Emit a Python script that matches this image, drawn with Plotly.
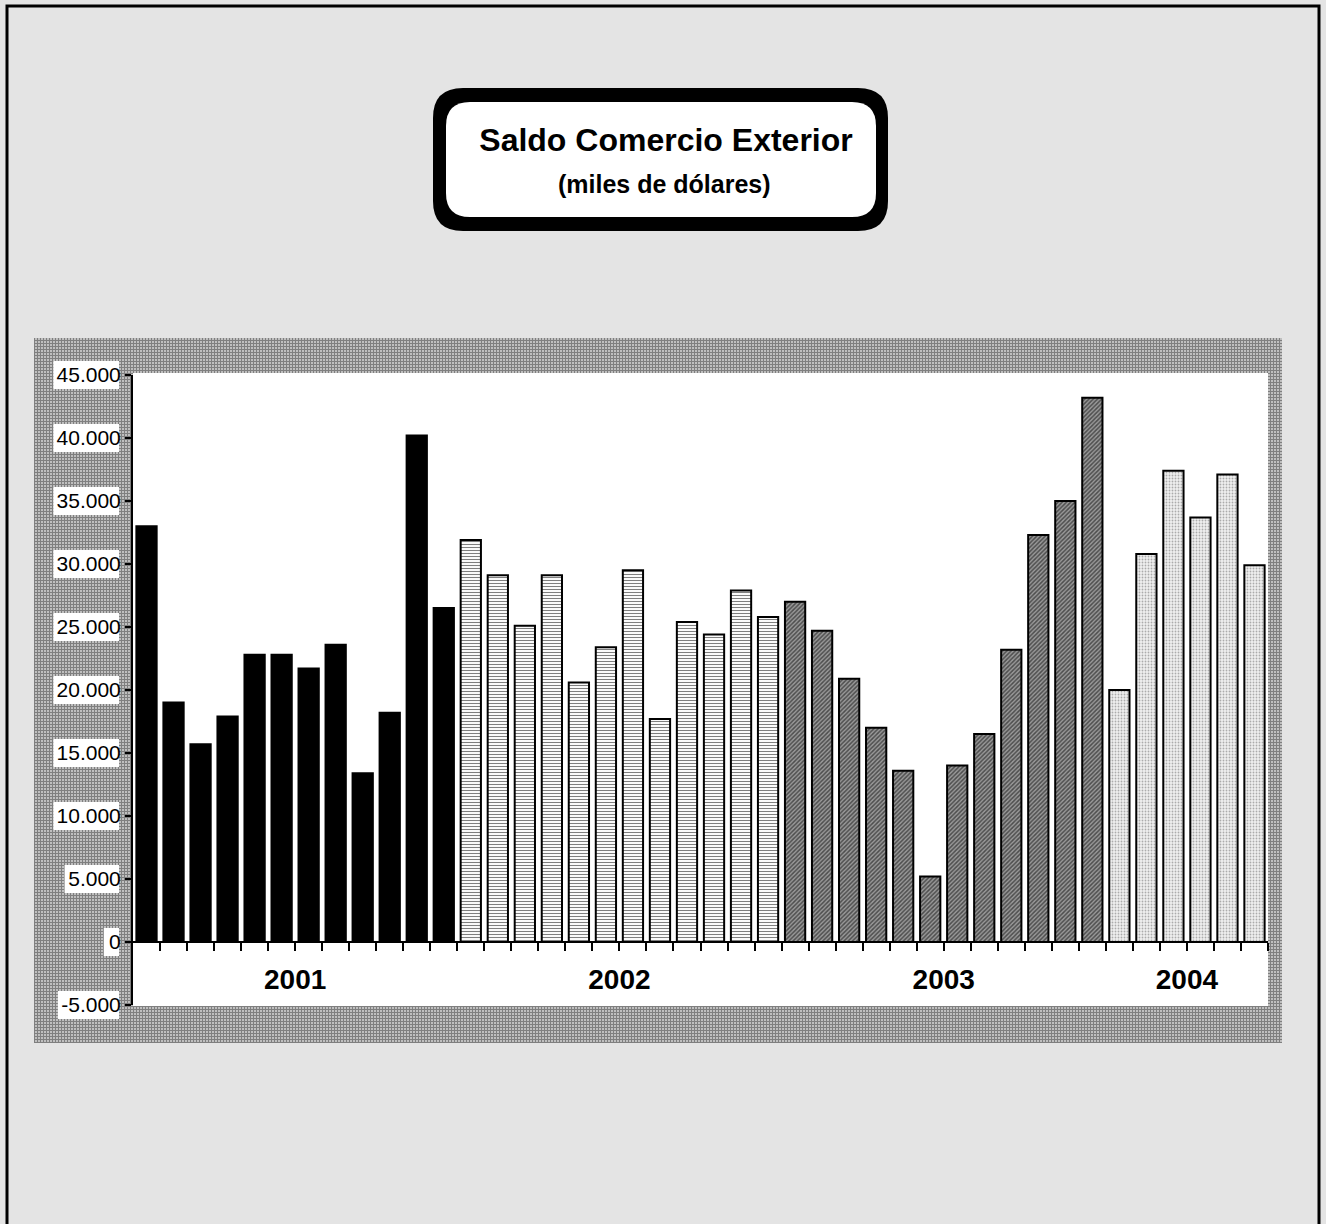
import plotly.graph_objects as go

W, H = 1326, 1224

# ---------------- data ----------------
years = ["2001", "2002", "2003", "2004"]
saldo_2001 = [33000, 19000, 15700, 17900, 22800, 22800, 21700, 23600, 13400, 18200, 40200, 26500]
saldo_2002 = [31900, 29100, 25100, 29100, 20600, 23400, 29500, 17700, 25400, 24400, 27900, 25800]
saldo_2003 = [27000, 24700, 20900, 17000, 13600, 5200, 14000, 16500, 23200, 32300, 35000, 43200]
saldo_2004 = [20000, 30800, 37400, 33700, 37100, 29900]
ytick_vals = [-5000, 0, 5000, 10000, 15000, 20000, 25000, 30000, 35000, 40000, 45000]
ytick_text = ["-5.000", "0", "5.000", "10.000", "15.000", "20.000", "25.000",
              "30.000", "35.000", "40.000", "45.000"]
title_text = "Saldo Comercio Exterior"
subtitle_text = "(miles de dólares)"

series = [saldo_2001, saldo_2002, saldo_2003, saldo_2004]

# ---------------- layout geometry (pixels) ----------------
PX_L, PX_R = 133, 1268
PX_T, PX_B = 375, 1005
Y_MIN, Y_MAX = -5000, 45000


def py(v):
    return PX_B - (v - Y_MIN) / (Y_MAX - Y_MIN) * (PX_B - PX_T)


def rrect(x0, y0, x1, y1, r):
    return (f"M{x0 + r},{y0} L{x1 - r},{y0} Q{x1},{y0} {x1},{y0 + r} "
            f"L{x1},{y1 - r} Q{x1},{y1} {x1 - r},{y1} L{x0 + r},{y1} "
            f"Q{x0},{y1} {x0},{y1 - r} L{x0},{y0 + r} Q{x0},{y0} {x0 + r},{y0} Z")


def label_width(t):
    w = 0
    for ch in t:
        w += 11.2 if ch.isdigit() else (5.6 if ch == "." else 6.7)
    return w + 4


fig = go.Figure()

# ---------------- decoration (pixel-space subplot) ----------------
HX0, HX1, HY0, HY1 = 34, 1282, 338, 1043
fig.add_trace(go.Bar(
    x=[(HX0 + HX1) / 2], y=[HY1 - HY0], base=[HY0], width=[HX1 - HX0],
    marker=dict(color="white", line=dict(width=0),
                pattern=dict(shape="+", fgcolor="black", bgcolor="white", size=3, solidity=0.8)),
    xaxis="x", yaxis="y", hoverinfo="skip", showlegend=False))

# white plot area + white boxes behind y tick labels
bx, by, bb, bw = [(PX_L + PX_R) / 2], [PX_B + 1 - (PX_T - 2)], [PX_T - 2], [PX_R - PX_L]
for v, t in zip(ytick_vals, ytick_text):
    w = label_width(t)
    bx.append(119 - w / 2)
    bw.append(w)
    bb.append(py(v) - 14)
    by.append(28)
fig.add_trace(go.Bar(
    x=bx, y=by, base=bb, width=bw,
    marker=dict(color="white", line=dict(width=0)),
    xaxis="x", yaxis="y", hoverinfo="skip", showlegend=False))

# ---------------- data bars ----------------
patterns = [
    dict(color="black", pattern=dict(shape="")),
    dict(color="white", pattern=dict(shape="-", fgcolor="black", bgcolor="white", size=3, solidity=0.36)),
    dict(color="#555555", pattern=dict(shape="/", fgcolor="black", bgcolor="#9a9a9a", size=3, solidity=0.5)),
    dict(color="#dddddd", pattern=dict(shape=".", fgcolor="#666666", bgcolor="#f0f0f0", size=3, solidity=0.3)),
]

start = 0
centers = []
for yr, vals, pat in zip(years, series, patterns):
    n = len(vals)
    xs = list(range(start, start + n))
    centers.append(start + (n - 1) / 2)
    fig.add_trace(go.Bar(
        x=xs, y=vals, name=yr,
        marker=dict(color=pat["color"], pattern=pat["pattern"],
                    line=dict(color="black", width=2)),
        xaxis="x2", yaxis="y2", showlegend=False))
    start += n
n_total = start
boundaries = [i + 0.5 for i in range(n_total)]

# ---------------- shapes: frame & title box ----------------
shapes = [
    dict(type="rect", xref="paper", yref="paper", x0=7 / W, x1=1319 / W, y0=-0.02, y1=1 - 6 / H,
         line=dict(color="black", width=3), fillcolor="rgba(0,0,0,0)", layer="above"),
    dict(type="path", xref="x", yref="y", path=rrect(433, 88, 888, 231, 30),
         fillcolor="black", line=dict(width=0), layer="above"),
    dict(type="path", xref="x", yref="y", path=rrect(446, 102, 876, 217, 24),
         fillcolor="white", line=dict(width=0), layer="above"),
]

fig.update_layout(
    width=W, height=H,
    autosize=False,
    margin=dict(l=0, r=0, t=0, b=0, pad=0, autoexpand=False),
    paper_bgcolor="#e4e4e4",
    plot_bgcolor="rgba(0,0,0,0)",
    barmode="overlay",
    bargap=0.25,
    hovermode=False,
    showlegend=False,
    shapes=shapes,
    title=dict(text=title_text, x=666 / W, xanchor="center", xref="paper",
               y=1 - 140 / H, yanchor="middle", yref="paper", automargin=False,
               font=dict(family="Arial", size=32, color="black", weight="bold")),
    annotations=[dict(text=subtitle_text, x=664, y=184, xref="x", yref="y",
                      showarrow=False, xanchor="center", yanchor="middle",
                      font=dict(family="Arial", size=25, color="black", weight="bold"))],
    xaxis=dict(domain=[0, 1], range=[0, W], visible=False, fixedrange=True, automargin=False),
    yaxis=dict(domain=[0, 1], range=[H, 0], visible=False, fixedrange=True, automargin=False),
    xaxis2=dict(domain=[PX_L / W, PX_R / W], range=[-0.5, n_total - 0.5],
                anchor="free", position=(H - py(0)) / H, automargin=False,
                showline=True, linecolor="black", linewidth=2,
                showgrid=False, zeroline=False,
                tickmode="array", tickvals=centers, ticktext=years, ticks="",
                ticklabelstandoff=12,
                tickfont=dict(family="Arial", size=28, color="black", weight="bold"),
                minor=dict(tickmode="array", tickvals=boundaries, ticks="outside",
                           ticklen=8, tickwidth=1.5, tickcolor="black"),
                fixedrange=True),
    yaxis2=dict(domain=[(H - PX_B) / H, (H - PX_T) / H], range=[Y_MIN, Y_MAX],
                anchor="x2", automargin=False, showline=True, linecolor="black", linewidth=2,
                showgrid=False, zeroline=False,
                tickmode="array", tickvals=ytick_vals, ticktext=ytick_text,
                ticks="outside", ticklen=6, tickwidth=2, tickcolor="black",
                tickfont=dict(family="Arial", size=21, color="black"),
                fixedrange=True),
)

fig.write_html("out.html", config={"displayModeBar": False},
               post_script="document.body.style.margin='0';")
